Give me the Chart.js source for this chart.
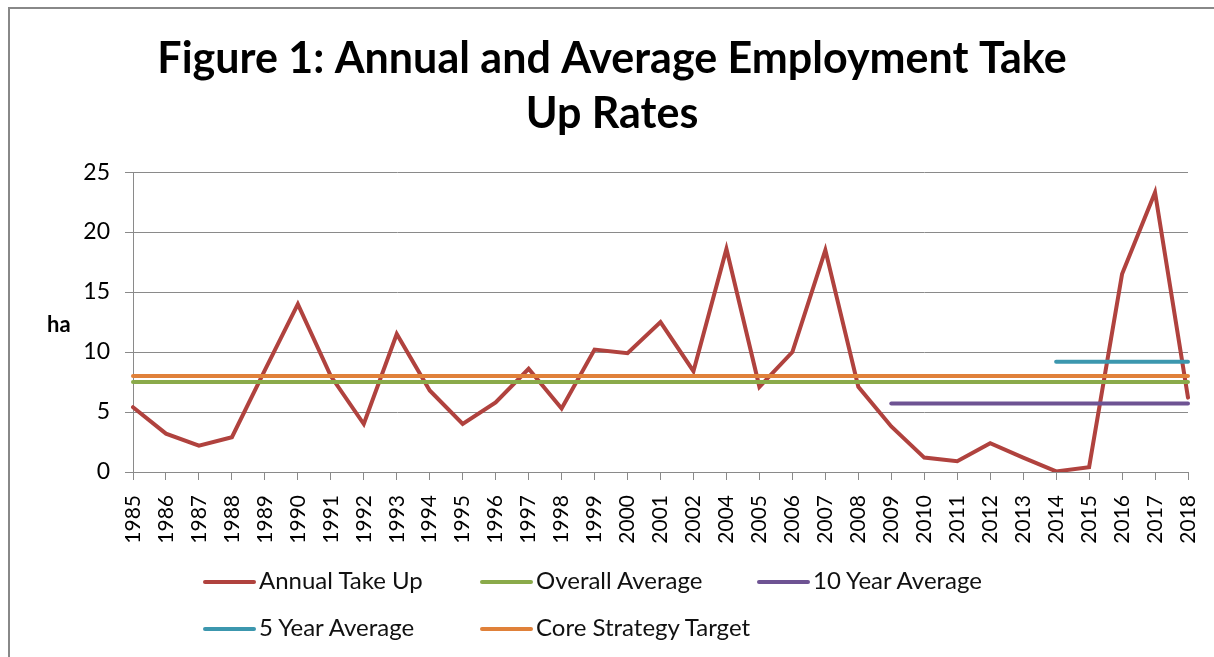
<!DOCTYPE html>
<html>
<head>
<meta charset="utf-8">
<script src="https://cdn.jsdelivr.net/npm/chart.js@4/dist/chart.umd.min.js"></script>
<style>
  html, body { margin: 0; padding: 0; background: #fff; overflow: hidden; }
  #wrap { position: relative; width: 1214px; height: 657px; }
  #frame { position: absolute; left: 8px; top: 7px; width: 1230px; height: 700px; border-left: 2.5px solid #888; border-top: 2.5px solid #888; box-sizing: border-box; pointer-events: none; }
  canvas { position: absolute; left: 0; top: 0; }
  #ylabel { position: absolute; left: 47px; top: 310px; font: bold 22px Lato, sans-serif; color: #000; }
  .leg { position: absolute; font: 24px Lato, sans-serif; color: #111; white-space: nowrap; line-height: 26px; }
  .leg .sw { display: inline-block; width: 53px; height: 4px; border-radius: 2px; vertical-align: middle; margin-right: 3px; position: relative; top: -1px; }
</style>
</head>
<body>
<div id="wrap">
  <canvas id="c" width="1214" height="657"></canvas>
  <div id="frame"></div>
  <div id="ylabel">ha</div>
  <div id="legend"></div>
</div>
<script>
// ---- data ----
const years = ['1985','1986','1987','1988','1989','1990','1991','1992','1993','1994','1995','1996','1997','1998','1999','2000','2001','2002','2004','2005','2006','2007','2008','2009','2010','2011','2012','2013','2014','2015','2016','2017','2018'];
const annualTakeUp = [5.4,3.2,2.2,2.9,8.5,14.0,8.0,4.0,11.5,6.8,4.0,5.8,8.6,5.3,10.2,9.9,12.5,8.4,18.6,7.1,10.0,18.5,7.1,3.8,1.2,0.9,2.4,1.2,0.05,0.4,16.5,23.3,6.2];
const overallAverage = 7.5;
const tenYearAverage = 5.7;
const tenYearStart = '2009';
const fiveYearAverage = 9.2;
const fiveYearStart = '2014';
const coreStrategyTarget = 8.0;
const yTicks = [0,5,10,15,20,25];
const seriesNames = ['Annual Take Up','Overall Average','10 Year Average','5 Year Average','Core Strategy Target'];
const seriesColors = ['#B0423E','#8AAA4A','#6E5393','#3C97AE','#E0813A'];

// ---- build ----
const flat = v => years.map(() => v);
const from = (start, v) => years.map(y => (y >= start ? v : null));
const seriesData = [
  annualTakeUp,
  flat(overallAverage),
  from(tenYearStart, tenYearAverage),
  from(fiveYearStart, fiveYearAverage),
  flat(coreStrategyTarget)
];

const datasets = seriesNames.map((name, i) => ({
  label: name,
  data: seriesData[i],
  borderColor: seriesColors[i],
  backgroundColor: seriesColors[i],
  borderWidth: 4,
  pointRadius: 0,
  pointHoverRadius: 0,
  tension: 0,
  fill: false,
  spanGaps: false,
  borderCapStyle: 'round',
  borderJoinStyle: 'miter',
  order: seriesNames.length - i
}));

const gridColor = '#8a8a8a';

new Chart(document.getElementById('c'), {
  type: 'line',
  data: { labels: years, datasets },
  options: {
    responsive: false,
    animation: false,
    events: [],
    layout: { padding: { left: 36, right: 26, top: 0, bottom: 85 } },
    plugins: {
      legend: { display: false },
      tooltip: { enabled: false },
      title: {
        display: true,
        text: ['Figure 1: Annual and Average Employment Take', 'Up Rates'],
        color: '#000',
        font: { family: 'Lato', size: 43, weight: 'bold', lineHeight: 1.28 },
        padding: { top: 32, bottom: 30 }
      }
    },
    scales: {
      x: {
        type: 'category',
        offset: false,
        grid: { display: true, drawOnChartArea: false, drawTicks: true, tickLength: 8, color: gridColor, lineWidth: 1 },
        border: { display: true, color: gridColor, width: 1 },
        ticks: {
          autoSkip: false, minRotation: 90, maxRotation: 90, padding: 15,
          color: '#000', font: { family: 'Lato', size: 21 }
        },
        afterFit: s => { s.height = 100; s.paddingLeft = 0; s.paddingRight = 0; }
      },
      y: {
        min: 0, max: 25,
        afterBuildTicks: s => { s.ticks = yTicks.map(v => ({ value: v })); },
        grid: { color: gridColor, lineWidth: 1, drawTicks: true, tickLength: 8 },
        border: { display: true, color: gridColor, width: 1 },
        ticks: { padding: 15, color: '#000', font: { family: 'Lato', size: 23 } },
        afterFit: s => { s.width = 97; s.paddingTop = 0; s.paddingBottom = 0; }
      }
    }
  }
});

// ---- legend (HTML) ----
const legPos = [[203,567],[480,567],[757,567],[203,614],[480,614]];
const legEl = document.getElementById('legend');
seriesNames.forEach((name, i) => {
  const d = document.createElement('div');
  d.className = 'leg';
  d.style.left = legPos[i][0] + 'px';
  d.style.top = legPos[i][1] + 'px';
  const sw = document.createElement('span');
  sw.className = 'sw';
  sw.style.background = seriesColors[i];
  d.appendChild(sw);
  d.appendChild(document.createTextNode(name));
  legEl.appendChild(d);
});
</script>
</body>
</html>
